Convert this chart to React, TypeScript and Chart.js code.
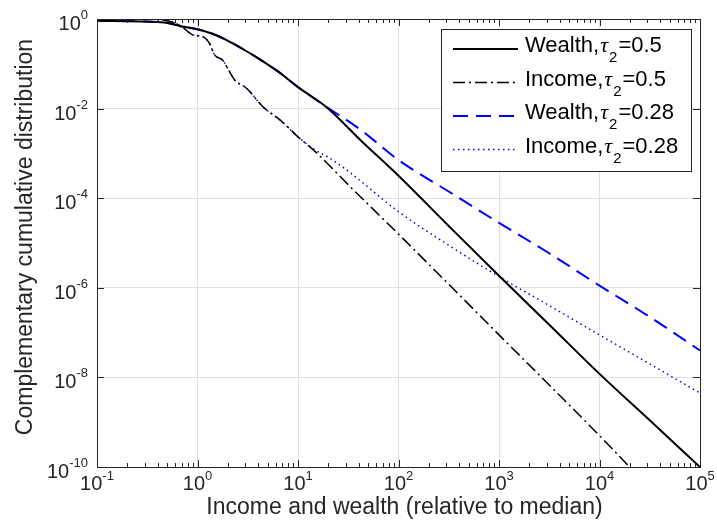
import { useEffect, useRef } from 'react';
import { Chart, registerables } from 'chart.js';

Chart.register(...registerables);

// ---------- data ----------
const wealth05X = [0.1, 0.316, 0.501, 0.676, 1, 1.41, 1.95, 2.82, 4.17, 6.31, 10, 19.5, 41.7, 100, 316, 1000, 3162, 10000, 31623, 100000];
const wealth05Y = [0.912, 0.871, 0.813, 0.692, 0.589, 0.468, 0.339, 0.214, 0.126, 0.0676, 0.0302, 0.0105, 2.0e-3, 3.16e-4, 2.4e-5, 1.85e-6, 1.5e-7, 1.2e-8, 1.1e-9, 1e-10];

const wealth028X = [0.1, 0.316, 0.501, 0.676, 1, 1.41, 1.95, 2.82, 4.17, 6.31, 10, 19.5, 41.7, 100, 316, 1000, 3162, 10000, 31623, 100000];
const wealth028Y = [0.93, 0.88, 0.82, 0.70, 0.589, 0.468, 0.339, 0.214, 0.126, 0.0676, 0.0302, 0.0107, 3.4e-3, 7.1e-4, 1.41e-4, 2.82e-5, 5.9e-6, 1.12e-6, 2.24e-7, 3.98e-8];

const income05X = [0.1, 0.316, 0.501, 0.676, 0.912, 1.12, 1.32, 1.48, 1.78, 2.09, 2.34, 3.09, 4.47, 6.61, 10, 15.5, 31.6, 100, 316, 1000, 3162, 10000, 19953];
const income05Y = [0.99, 0.99, 0.912, 0.708, 0.437, 0.407, 0.282, 0.158, 0.120, 0.0661, 0.0437, 0.0282, 0.0110, 5.62e-3, 2.34e-3, 1e-3, 2.0e-4, 1.58e-5, 1.2e-6, 8.91e-8, 6.76e-9, 5.01e-10, 1e-10];

const income028X = [0.1, 0.316, 0.501, 0.676, 0.912, 1.12, 1.32, 1.48, 1.78, 2.09, 2.34, 3.09, 4.47, 6.61, 10, 15.5, 19.5, 31.6, 100, 316, 1000, 3162, 10000, 31623, 100000];
const income028Y = [0.99, 0.99, 0.912, 0.708, 0.437, 0.407, 0.282, 0.158, 0.120, 0.0661, 0.0437, 0.0282, 0.0110, 5.62e-3, 2.34e-3, 1.12e-3, 8.51e-4, 4.0e-4, 5.0e-5, 8.9e-6, 1.78e-6, 4.0e-7, 8.9e-8, 2.0e-8, 4.47e-9];

const seriesNames = ['Wealth,', 'Income,', 'Wealth,', 'Income,'];
const tauValues = ['=0.5', '=0.5', '=0.28', '=0.28'];
const xTickExponents = [-1, 0, 1, 2, 3, 4, 5];
const yTickExponents = [0, -2, -4, -6, -8, -10];
const xTitle = 'Income and wealth (relative to median)';
const yTitle = 'Complementary cumulative distribution';

const FONT = '"Liberation Sans", Arial, Helvetica, sans-serif';
const TEXT = '#262626';

const styles = [
  { color: '#000000', width: 2, dash: [] as number[] },
  { color: '#000000', width: 1.5, dash: [12, 4, 2, 4] },
  { color: '#0000ff', width: 2, dash: [15, 8] },
  { color: '#0000ff', width: 1.5, dash: [1.5, 3.5] },
];

function pts(xs: number[], ys: number[]) {
  return xs.map((x, i) => ({ x, y: ys[i] }));
}

const decorPlugin = {
  id: 'matlabDecor',
  afterDraw(chart: any) {
    const ctx = chart.ctx as CanvasRenderingContext2D;
    const { left, right, top, bottom } = chart.chartArea;
    const xs = chart.scales.x;
    const ys = chart.scales.y;
    ctx.save();
    // axes box
    ctx.strokeStyle = TEXT;
    ctx.lineWidth = 1;
    ctx.setLineDash([]);
    ctx.strokeRect(Math.round(left) + 0.5, Math.round(top) + 0.5, Math.round(right - left), Math.round(bottom - top));

    // x ticks (major + minor), bottom and top, inward
    ctx.beginPath();
    for (let e = -1; e <= 5; e++) {
      for (let k = 1; k <= 9; k++) {
        const v = k * Math.pow(10, e);
        if (v > 1e5 + 1) break;
        const px = Math.round(xs.getPixelForValue(v)) + 0.5;
        const len = k === 1 ? 7 : 4;
        ctx.moveTo(px, bottom);
        ctx.lineTo(px, bottom - len);
        ctx.moveTo(px, top);
        ctx.lineTo(px, top + len);
      }
    }
    // y ticks, left and right, inward
    for (const e of yTickExponents) {
      const py = Math.round(ys.getPixelForValue(Math.pow(10, e))) + 0.5;
      ctx.moveTo(left, py);
      ctx.lineTo(left + 7, py);
      ctx.moveTo(right, py);
      ctx.lineTo(right - 7, py);
    }
    ctx.stroke();

    // tick labels
    ctx.fillStyle = TEXT;
    ctx.textBaseline = 'alphabetic';
    const bigFont = `20px ${FONT}`;
    const smallFont = `13px ${FONT}`;
    for (const e of xTickExponents) {
      const px = xs.getPixelForValue(Math.pow(10, e));
      ctx.font = bigFont;
      const w10 = ctx.measureText('10').width;
      ctx.font = smallFont;
      const wExp = ctx.measureText(String(e)).width;
      const start = px - (w10 + wExp) / 2;
      ctx.font = bigFont;
      ctx.textAlign = 'left';
      ctx.fillText('10', start, bottom + 23);
      ctx.font = smallFont;
      ctx.fillText(String(e), start + w10, bottom + 13);
    }
    for (const e of yTickExponents) {
      const py = ys.getPixelForValue(Math.pow(10, e));
      ctx.font = smallFont;
      const wExp = ctx.measureText(String(e)).width;
      const rightEdge = left - 9;
      ctx.textAlign = 'left';
      ctx.fillText(String(e), rightEdge - wExp, py + 0);
      ctx.font = bigFont;
      const w10 = ctx.measureText('10').width;
      ctx.fillText('10', rightEdge - wExp - w10, py + 11);
    }

    // axis titles
    ctx.font = `23px ${FONT}`;
    ctx.textAlign = 'center';
    ctx.fillText(xTitle, (left + right) / 2 + 6, 514);
    ctx.save();
    ctx.translate(32, (top + bottom) / 2 - 6);
    ctx.rotate(-Math.PI / 2);
    ctx.fillText(yTitle, 0, 0);
    ctx.restore();

    // legend
    const lx0 = 441, ly0 = 29, lx1 = 691, ly1 = 171;
    ctx.fillStyle = '#ffffff';
    ctx.fillRect(lx0, ly0, lx1 - lx0, ly1 - ly0);
    ctx.strokeStyle = TEXT;
    ctx.lineWidth = 1;
    ctx.strokeRect(lx0 + 0.5, ly0 + 0.5, lx1 - lx0, ly1 - ly0);
    const baselines = [52, 85.5, 119, 152.5];
    chart.data.datasets.forEach((ds: any, i: number) => {
      const by = baselines[i];
      const st = styles[i];
      ctx.beginPath();
      ctx.strokeStyle = st.color;
      ctx.lineWidth = st.width;
      ctx.setLineDash(st.dash);
      ctx.moveTo(453, by - 3);
      ctx.lineTo(518, by - 3);
      ctx.stroke();
      ctx.setLineDash([]);
      ctx.fillStyle = '#000000';
      ctx.textAlign = 'left';
      let x = 525;
      ctx.font = `22px ${FONT}`;
      ctx.fillText(seriesNames[i], x, by);
      x += ctx.measureText(seriesNames[i]).width + 1;
      ctx.font = `italic 22px "Liberation Serif", serif`;
      ctx.fillText('τ', x, by);
      x += ctx.measureText('τ').width + 1;
      ctx.font = `15px ${FONT}`;
      ctx.fillText('2', x, by + 10);
      x += ctx.measureText('2').width + 1;
      ctx.font = `22px ${FONT}`;
      ctx.fillText(tauValues[i], x, by);
    });
    ctx.restore();
  },
};

export default function App() {
  const ref = useRef<HTMLCanvasElement | null>(null);
  useEffect(() => {
    document.body.style.margin = '0';
    const canvas = ref.current!;
    const series = [
      pts(wealth05X, wealth05Y),
      pts(income05X, income05Y),
      pts(wealth028X, wealth028Y),
      pts(income028X, income028Y),
    ];
    const chart = new Chart(canvas, {
      type: 'line',
      data: {
        datasets: series.map((d, i) => ({
          label: seriesNames[i] + 'τ2' + tauValues[i],
          data: d,
          borderColor: styles[i].color,
          borderWidth: styles[i].width,
          borderDash: styles[i].dash,
          borderCapStyle: 'butt',
          pointRadius: 0,
          fill: false,
          cubicInterpolationMode: 'monotone',
          clip: 0,
        })),
      },
      options: {
        responsive: false,
        animation: false,
        devicePixelRatio: 1,
        layout: { padding: { top: 19, right: 17, left: 0, bottom: 0 } },
        plugins: { legend: { display: false }, tooltip: { enabled: false }, title: { display: false } },
        events: [],
        scales: {
          x: {
            type: 'logarithmic',
            min: 0.1,
            max: 1e5,
            border: { display: false },
            grid: { color: '#e0e0e0', lineWidth: 1, drawTicks: false },
            ticks: { display: false },
            afterBuildTicks: (s: any) => {
              s.ticks = xTickExponents.map((e) => ({ value: Math.pow(10, e) }));
            },
            afterFit: (s: any) => {
              s.height = 64;
            },
          },
          y: {
            type: 'logarithmic',
            min: 1e-10,
            max: 1,
            border: { display: false },
            grid: { color: '#e0e0e0', lineWidth: 1, drawTicks: false },
            ticks: { display: false },
            afterBuildTicks: (s: any) => {
              s.ticks = yTickExponents.map((e) => ({ value: Math.pow(10, e) }));
            },
            afterFit: (s: any) => {
              s.width = 97;
            },
          },
        },
      } as any,
      plugins: [decorPlugin],
    });
    return () => chart.destroy();
  }, []);
  return <canvas ref={ref} width={717} height={531} style={{ display: 'block' }} />;
}
